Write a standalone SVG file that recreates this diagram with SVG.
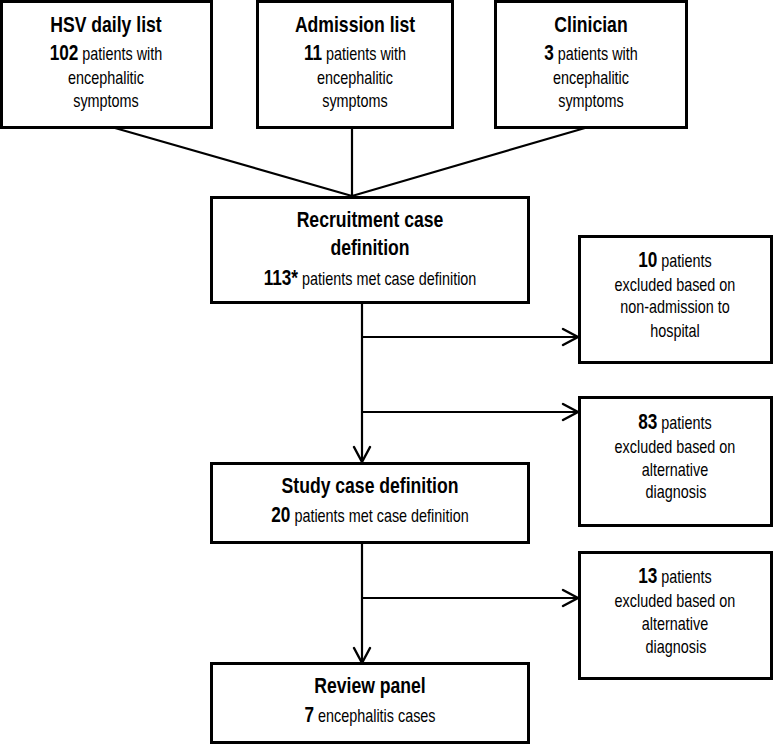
<svg xmlns="http://www.w3.org/2000/svg" width="773" height="744" viewBox="0 0 773 744">
<style>
.box{fill:#fff;stroke:#000;stroke-width:3}
.ln{fill:none;stroke:#000;stroke-width:2.2}
.hd{fill:none;stroke:#000;stroke-width:2.4;stroke-linecap:round;stroke-linejoin:miter}
text{font-family:"Liberation Sans",Arial,sans-serif;text-anchor:middle;fill:#000}
.t{font-size:22px;font-weight:bold}
.b{font-size:18px}
.n{font-weight:bold;font-size:21.5px}
</style>
<rect width="773" height="744" fill="#fff"/>
<g id="connectors">
<path class="ln" d="M115,128 L352,196 M352,128 L352,196 M585,128 L352,196"/>
<path class="ln" d="M362,303 L362,461 M362,337 L577,337 M362,412 L577,412 M362,543 L362,662 M362,598 L577,598"/>
<path class="hd" d="M563,329 L578,337 L563,345 M563,404 L578,412 L563,420 M563,590 L578,598 L563,606 M354,447 L362,462 L370,447 M354,648 L362,663 L370,648"/>
</g>
<g id="hsv">
<rect class="box" x="1.5" y="1.5" width="210" height="126"/>
<g transform="scale(0.8,1)">
<text class="t" x="132.5" y="32">HSV daily list</text>
<text class="b" x="132.5" y="60"><tspan class="n">102</tspan> patients with</text>
<text class="b" x="132.5" y="84">encephalitic</text>
<text class="b" x="132.5" y="107">symptoms</text>
</g>
</g>
<g id="admission">
<rect class="box" x="257.5" y="1.5" width="195" height="126"/>
<g transform="scale(0.8,1)">
<text class="t" x="443.75" y="32">Admission list</text>
<text class="b" x="443.75" y="60"><tspan class="n">11</tspan> patients with</text>
<text class="b" x="443.75" y="84">encephalitic</text>
<text class="b" x="443.75" y="107">symptoms</text>
</g>
</g>
<g id="clinician">
<rect class="box" x="495.5" y="1.5" width="191" height="126"/>
<g transform="scale(0.8,1)">
<text class="t" x="738.75" y="32">Clinician</text>
<text class="b" x="738.75" y="60"><tspan class="n">3</tspan> patients with</text>
<text class="b" x="738.75" y="84">encephalitic</text>
<text class="b" x="738.75" y="107">symptoms</text>
</g>
</g>
<g id="recruitment">
<rect class="box" x="211.5" y="197.5" width="317" height="105"/>
<g transform="scale(0.8,1)">
<text class="t" x="462.5" y="227">Recruitment case</text>
<text class="t" x="462.5" y="255">definition</text>
<text class="b" x="462.5" y="285"><tspan class="n">113*</tspan> patients met case definition</text>
</g>
</g>
<g id="excluded1">
<rect class="box" x="579.5" y="236.5" width="192" height="126"/>
<g transform="scale(0.8,1)">
<text class="b" x="843.75" y="267"><tspan class="n">10</tspan> patients</text>
<text class="b" x="843.75" y="291">excluded based on</text>
<text class="b" x="843.75" y="313">non-admission to</text>
<text class="b" x="843.75" y="337">hospital</text>
</g>
</g>
<g id="excluded2">
<rect class="box" x="579.5" y="397.5" width="192" height="128"/>
<g transform="scale(0.8,1)">
<text class="b" x="843.75" y="429"><tspan class="n">83</tspan> patients</text>
<text class="b" x="843.75" y="453">excluded based on</text>
<text class="b" x="843.75" y="476">alternative</text>
<text class="b" x="845" y="498">diagnosis</text>
</g>
</g>
<g id="study">
<rect class="box" x="211.5" y="463.5" width="317" height="79"/>
<g transform="scale(0.8,1)">
<text class="t" x="462.5" y="493">Study case definition</text>
<text class="b" x="462.5" y="522"><tspan class="n">20</tspan> patients met case definition</text>
</g>
</g>
<g id="excluded3">
<rect class="box" x="579.5" y="552.5" width="192" height="126"/>
<g transform="scale(0.8,1)">
<text class="b" x="843.75" y="583"><tspan class="n">13</tspan> patients</text>
<text class="b" x="843.75" y="607">excluded based on</text>
<text class="b" x="843.75" y="630">alternative</text>
<text class="b" x="845" y="653">diagnosis</text>
</g>
</g>
<g id="review">
<rect class="box" x="211.5" y="663.5" width="317" height="79"/>
<g transform="scale(0.8,1)">
<text class="t" x="462.5" y="693">Review panel</text>
<text class="b" x="462.5" y="722"><tspan class="n">7</tspan> encephalitis cases</text>
</g>
</g>
</svg>
